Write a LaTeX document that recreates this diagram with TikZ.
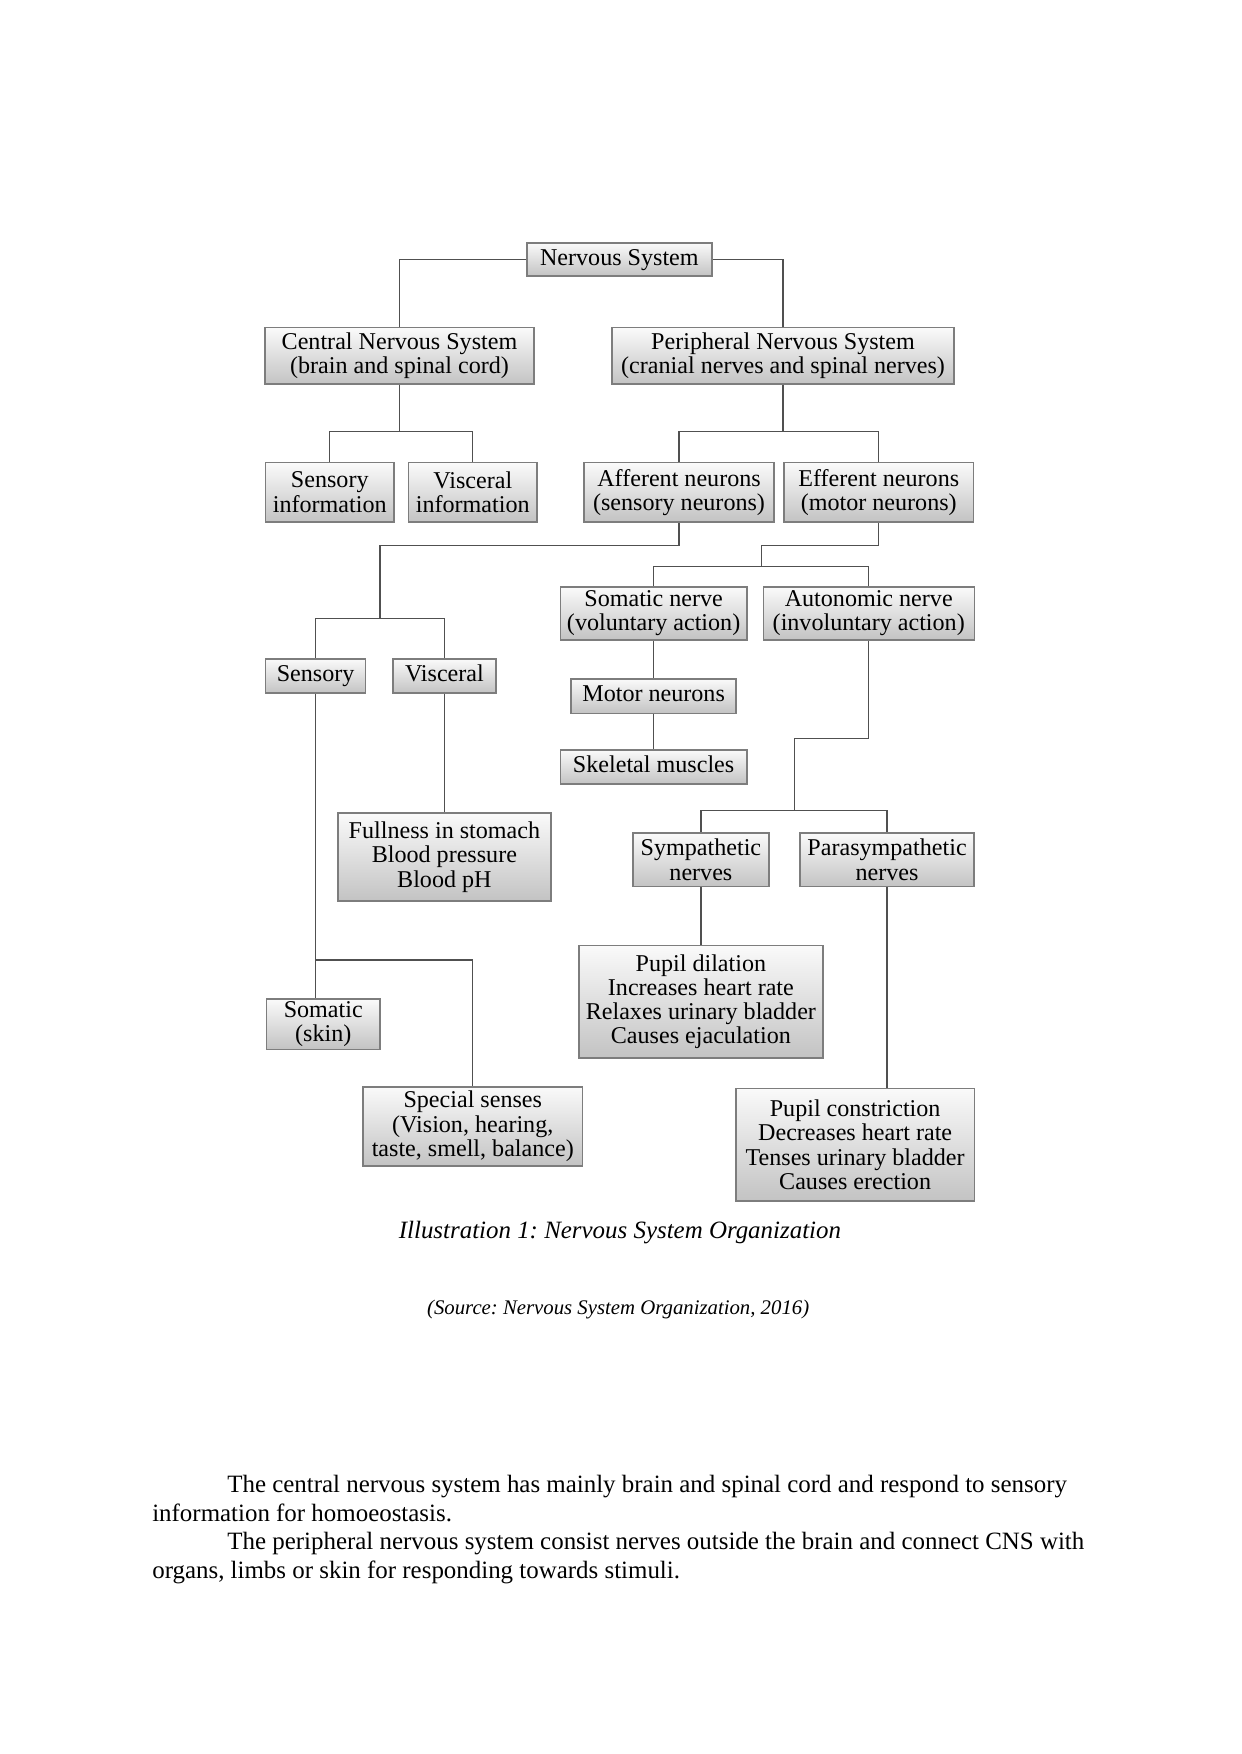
\documentclass[tikz,border=0pt]{standalone}
\usepackage{fontspec}
\setmainfont{Liberation Serif}
\usepackage{tikz}
\usetikzlibrary{positioning, shapes}
\usepackage{xcolor}
\definecolor{box_border}{RGB}{125, 125, 125}
\definecolor{box_top}{RGB}{250, 250, 250}
\definecolor{box_bottom}{RGB}{195, 195, 195}
\definecolor{link_color}{RGB}{80, 80, 80}
\frenchspacing

\begin{document}
\begin{tikzpicture}[
    box/.style={draw=box_border, line width=0.7pt, top color=box_top, bottom color=box_bottom,
      align=center, inner xsep=2pt, inner ysep=1pt, font=\fontsize{11.6}{11.7}\selectfont},
    oneline/.style={box, text height=8pt, text depth=2.5pt},
    link/.style={draw=link_color, line width=0.6pt}]

      \useasboundingbox (0,0) rectangle (21,-29.68);

      % 1. CAJAS (de arriba hacia abajo)
      % Nivel 1
      \node[oneline, minimum width=3.13cm, minimum height=0.56cm] (ns) at (10.48,-4.39) {Nervous System};

      % Nivel 2
      \node[box, minimum width=4.55cm, minimum height=0.95cm] (cns) at (6.76,-6.02) {Central Nervous System\\(brain and spinal cord)};
      \node[box, minimum width=5.79cm, minimum height=0.95cm] (pns) at (13.25,-6.02) {Peripheral Nervous System\\(cranial nerves and spinal nerves)};

      % Nivel 3
      \node[box, minimum width=2.17cm, minimum height=1cm] (sinfo) at (5.58,-8.33) {Sensory\\information};
      \node[box, minimum width=2.18cm, minimum height=1cm] (vinfo) at (8.00,-8.33) {Visceral\\information};
      \node[box, minimum width=3.21cm, minimum height=1cm] (aff) at (11.49,-8.33) {Afferent neurons\\(sensory neurons)};
      \node[box, minimum width=3.21cm, minimum height=1cm] (eff) at (14.87,-8.33) {Efferent neurons\\(motor neurons)};

      % Nivel 4
      \node[box, minimum width=3.16cm, minimum height=0.9cm] (somn) at (11.06,-10.38) {Somatic nerve\\(voluntary action)};
      \node[box, minimum width=3.57cm, minimum height=0.9cm] (auto) at (14.70,-10.38) {Autonomic nerve\\(involuntary action)};
      \node[oneline, minimum width=1.69cm, minimum height=0.58cm] (sens) at (5.34,-11.44) {Sensory};
      \node[oneline, minimum width=1.74cm, minimum height=0.58cm] (visc) at (7.52,-11.44) {Visceral};
      \node[oneline, minimum width=2.79cm, minimum height=0.58cm] (motor) at (11.06,-11.78) {Motor neurons};
      \node[oneline, minimum width=3.16cm, minimum height=0.58cm] (skel) at (11.06,-12.98) {Skeletal muscles};

      % Nivel 5
      \node[box, minimum width=3.60cm, minimum height=1.49cm] (full) at (7.52,-14.50) {Fullness in stomach\\Blood pressure\\Blood pH};
      \node[box, minimum width=2.30cm, minimum height=0.91cm] (symp) at (11.86,-14.55) {Sympathetic\\nerves};
      \node[box, minimum width=2.94cm, minimum height=0.91cm] (para) at (15.01,-14.55) {Parasympathetic\\nerves};
      \node[box, minimum width=4.13cm, minimum height=1.91cm] (dil) at (11.86,-16.95) {Pupil dilation\\Increases heart rate\\Relaxes urinary bladder\\Causes ejaculation};
      \node[box, minimum width=1.92cm, minimum height=0.85cm] (skin) at (5.47,-17.33) {Somatic\\(skin)};
      \node[box, minimum width=3.71cm, minimum height=1.34cm] (spec) at (8.00,-19.06) {Special senses\\(Vision, hearing,\\taste, smell, balance)};
      \node[box, minimum width=4.03cm, minimum height=1.91cm] (con) at (14.47,-19.37) {Pupil constriction\\Decreases heart rate\\Tenses urinary bladder\\Causes erection};

      % 2. CONECTORES
      \draw[link] (ns.west) -| (cns.north);
      \draw[link] (ns.east) -| (pns.north);

      \draw[link] (cns.south) -- ++(0,-0.8) -| (sinfo.north);
      \draw[link] (cns.south) -- ++(0,-0.8) -| (vinfo.north);
      \draw[link] (pns.south) -- ++(0,-0.8) -| (aff.north);
      \draw[link] (pns.south) -- ++(0,-0.8) -| (eff.north);

      % Aferentes
      \coordinate (sv) at (6.43,-10.47);
      \draw[link] (aff.south) -- ++(0,-0.39) -| (sv);
      \draw[link] (sv) -| (sens.north);
      \draw[link] (sv) -| (visc.north);
      \draw[link] (visc.south) -- (full.north);
      \draw[link] (sens.south) -- (sens.south |- skin.north);
      \path (sens.south) ++(0,-4.5) coordinate (ss);
      \draw[link] (ss) -| (spec.north);

      % Eferentes
      \coordinate (sa) at (12.88,-9.59);
      \draw[link] (eff.south) -- ++(0,-0.39) -| (sa);
      \draw[link] (sa) -| (somn.north);
      \draw[link] (sa) -| (auto.north);
      \draw[link] (somn.south) -- (motor.north);
      \draw[link] (motor.south) -- (skel.north);

      % Autonomo
      \coordinate (sp) at (13.44,-13.72);
      \draw[link] (auto.south) -- ++(0,-1.66) -| (sp);
      \draw[link] (sp) -| (symp.north);
      \draw[link] (sp) -| (para.north);
      \draw[link] (symp.south) -- (dil.north);
      \draw[link] (para.south) -- (para.south |- con.north);

      % 3. TEXTOS
      \node[anchor=base, font=\fontsize{12}{14}\selectfont\itshape] (cap) at (10.49,-20.95) {Illustration 1: Nervous System Organization};
      \node[anchor=base, font=\fontsize{10}{12}\selectfont\itshape] (src) at (10.46,-22.25) {(Source: Nervous System Organization, 2016)};

      \node[anchor=base west, text width=17cm, align=left, inner sep=0pt,
            font=\fontsize{12}{13.7}\selectfont] (body) at (2.57,-25.26) {\spaceskip=3pt plus 1pt minus 0.5pt\relax
        \hspace*{1.27cm}The central nervous system has mainly brain and spinal cord and respond to sensory\\
        information for homoeostasis.\\
        \hspace*{1.27cm}The peripheral nervous system consist nerves outside the brain and connect CNS with\\
        organs, limbs or skin for responding towards stimuli.
      };

    \end{tikzpicture}
\end{document}
